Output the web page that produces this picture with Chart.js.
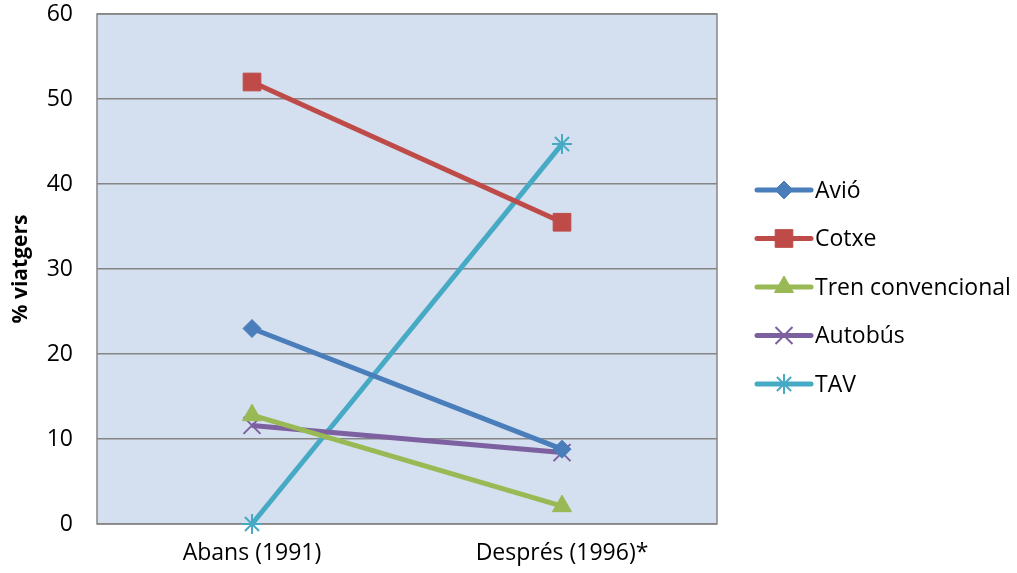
<!DOCTYPE html>
<html>
<head>
<meta charset="utf-8">
<script src="https://cdn.jsdelivr.net/npm/chart.js@4/dist/chart.umd.min.js"></script>
<style>
  html, body { margin: 0; padding: 0; background: #fff; }
  #wrap { width: 1017px; height: 573px; }
</style>
</head>
<body>
<div id="wrap"><canvas id="c" width="1017" height="573"></canvas></div>
<script>
// Categories and series (% of travellers)
const categories = ['Abans (1991)', 'Després (1996)*'];
const avio = [23, 8.8];
const cotxe = [52, 35.5];
const tren = [12.8, 2.1];
const autobus = [11.6, 8.4];
const tav = [0, 44.7];

const seriesNames = ['Avió', 'Cotxe', 'Tren convencional', 'Autobús', 'TAV'];
const seriesColors = ['#4A7EBB', '#BE4B48', '#98B954', '#7D60A0', '#46AAC5'];
const seriesPoints = ['rectRot', 'rect', 'triangle', 'crossRot', 'star'];
const seriesRadius = [9, 12.5, 11, 12, 10];
const seriesValues = [avio, cotxe, tren, autobus, tav];

const yTicks = [0, 10, 20, 30, 40, 50, 60];

const FONT = '"Open Sans", "Noto Sans", sans-serif';

const datasets = seriesNames.map((name, i) => {
  const cross = seriesPoints[i] === 'crossRot' || seriesPoints[i] === 'star';
  return {
    label: name,
    data: seriesValues[i],
    borderColor: seriesColors[i],
    backgroundColor: seriesColors[i],
    borderWidth: 5,
    pointStyle: seriesPoints[i],
    pointRadius: seriesRadius[i],
    pointBorderWidth: cross ? 2 : 1,
    pointBorderColor: seriesColors[i],
    pointBackgroundColor: seriesColors[i],
    tension: 0,
    clip: false
  };
});

// Plot background and frame
const plotFrame = {
  id: 'plotFrame',
  beforeDraw(chart) {
    const { ctx, chartArea: a } = chart;
    ctx.save();
    ctx.fillStyle = '#D4DFEF';
    ctx.fillRect(a.left, a.top, a.right - a.left, a.bottom - a.top);
    ctx.restore();
  },
  beforeDatasetsDraw(chart) {
    const { ctx, chartArea: a } = chart;
    ctx.save();
    ctx.strokeStyle = '#868686';
    ctx.lineWidth = 1.5;
    ctx.strokeRect(a.left, a.top, a.right - a.left, a.bottom - a.top);
    ctx.restore();
  }
};

// Legend with line sample and marker, drawn to the right of the plot
const sideLegend = {
  id: 'sideLegend',
  afterDraw(chart) {
    const { ctx } = chart;
    const x0 = 757, x1 = 811, xm = 784, y0 = 190, step = 48.5;
    chart.data.datasets.forEach((ds, i) => {
      const y = y0 + i * step;
      ctx.save();
      ctx.strokeStyle = ds.borderColor;
      ctx.lineWidth = 5;
      ctx.lineCap = 'round';
      ctx.beginPath();
      ctx.moveTo(x0, y);
      ctx.lineTo(x1, y);
      ctx.stroke();
      ctx.restore();
      ctx.save();
      ctx.fillStyle = ds.backgroundColor;
      ctx.strokeStyle = ds.pointBorderColor;
      ctx.lineWidth = ds.pointBorderWidth;
      Chart.helpers.drawPoint(ctx, { pointStyle: ds.pointStyle, rotation: 0, radius: ds.pointRadius, borderWidth: ds.pointBorderWidth }, xm, y);
      ctx.restore();
      ctx.save();
      ctx.fillStyle = '#000';
      ctx.font = '23px ' + FONT;
      ctx.textBaseline = 'middle';
      ctx.textAlign = 'left';
      ctx.fillText(ds.label, 815, y + 1);
      ctx.restore();
    });
  }
};

new Chart(document.getElementById('c'), {
  type: 'line',
  data: { labels: categories, datasets },
  plugins: [plotFrame, sideLegend],
  options: {
    responsive: false,
    animation: false,
    devicePixelRatio: 1,
    layout: { padding: { left: 8, right: 300, top: 14, bottom: 0 } },
    plugins: { legend: { display: false }, tooltip: { enabled: false } },
    scales: {
      x: {
        type: 'category',
        offset: true,
        grid: { display: false, drawTicks: false },
        border: { display: false },
        ticks: { color: '#000', font: { family: FONT, size: 23 }, padding: 16, maxRotation: 0 },
        afterFit(s) { s.height = 49; s.paddingLeft = 0; s.paddingRight = 0; }
      },
      y: {
        min: 0, max: 60,
        afterBuildTicks(s) { s.ticks = yTicks.map(v => ({ value: v })); },
        grid: { color: '#868686', lineWidth: 1.5, drawTicks: false },
        border: { display: false },
        ticks: { color: '#000', font: { family: FONT, size: 23 }, padding: 24 },
        title: { display: true, text: '% viatgers', color: '#000', font: { family: FONT, size: 21, weight: 'bold' }, padding: 0 },
        afterFit(s) { s.width = 89; s.paddingTop = 0; s.paddingBottom = 0; }
      }
    }
  }
});
</script>
</body>
</html>
